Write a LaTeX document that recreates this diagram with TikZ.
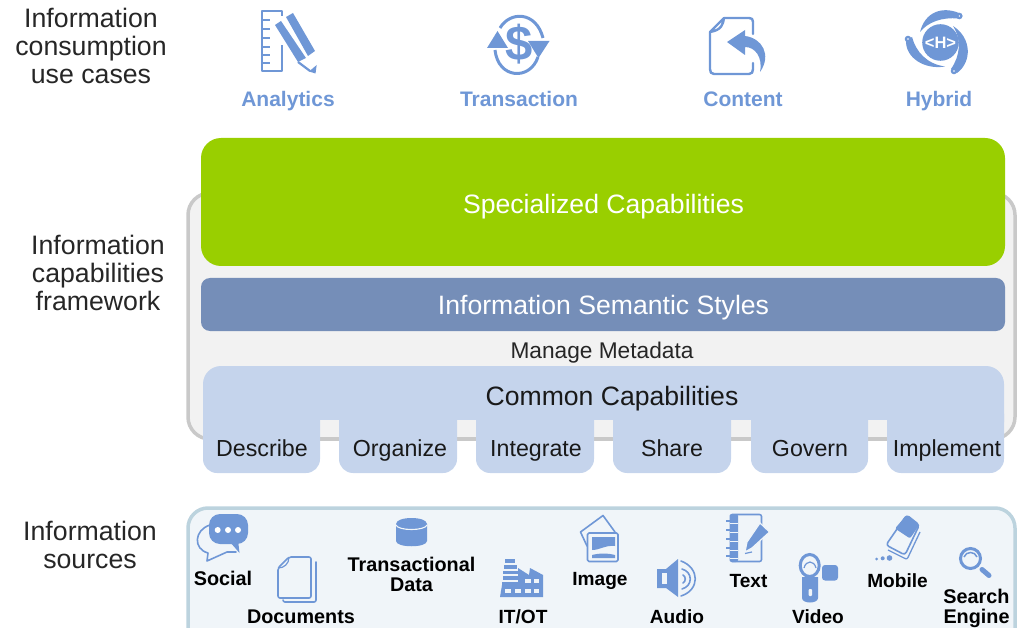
\documentclass[tikz,border=0pt]{standalone}
\usepackage{fontspec}
\setmainfont{Liberation Sans}
\definecolor{ic}{HTML}{6F97D6}
\definecolor{grn}{HTML}{99CF00}
\definecolor{sem}{HTML}{758EB8}
\definecolor{com}{HTML}{C5D4EC}
\definecolor{frm}{HTML}{C9C9C9}
\definecolor{frb}{HTML}{F2F2F2}
\definecolor{src}{HTML}{F0F5F9}
\definecolor{srb}{HTML}{BCD3DE}
\tikzset{
  x=1pt,y=-1pt,
  lab/.style={font=\fontsize{26.7}{28}\selectfont,align=center,text=black!85,inner sep=0},
  head/.style={font=\fontsize{21}{23}\bfseries\selectfont,text=ic,inner sep=0,anchor=base},
  tab/.style={font=\fontsize{23.2}{26}\selectfont,text=black!90,inner sep=0,anchor=base},
  big/.style={font=\fontsize{26.6}{28}\selectfont,inner sep=0,anchor=base},
  srcl/.style={font=\fontsize{19.8}{20}\bfseries\selectfont,align=center,text=black,inner sep=0},
  srcb/.style={srcl,anchor=base},
  srcs/.style={srcb,font=\fontsize{19.1}{20}\bfseries\selectfont},
  iconl/.style={draw=ic,line width=2.4pt,line join=round,line cap=round,fill=none},
  thin icon/.style={draw=ic,line width=1.6pt,line join=round,line cap=round},
}
\begin{document}
\begin{tikzpicture}
\useasboundingbox (0,0) rectangle (1017,628);
\clip (0,0) rectangle (1017,628);
% left labels
\node[lab] (l1) at (91,45.7) {Information\\consumption\\use cases};
\node[lab] (l2) at (98,273) {Information\\capabilities\\framework};
\node[lab] (l3) at (90,544.7) {Information\\sources};
% headings
\node[head] (h1) at (288,107) {Analytics};
\node[head] (h2) at (519,107) {Transaction};
\node[head] (h3) at (743,107) {Content};
\node[head] (h4) at (939,107) {Hybrid};
% frame
\draw[draw=frm,fill=frb,line width=3.5pt,rounded corners=22pt] (188,193) rectangle (1015,439);
% green
\fill[grn,rounded corners=20pt] (201,138) rectangle (1005,266);
\node[big,text=white] (spec) at (603.5,214) {Specialized Capabilities};
\fill[sem,rounded corners=9pt] (201,278) rectangle (1005,331);
\node[big,text=white] (sem) at (603.5,315) {Information Semantic Styles};
\node[font=\fontsize{22.7}{24}\selectfont,text=black!85,inner sep=0,anchor=base] (meta) at (602,358) {Manage Metadata};
% common
\fill[com,rounded corners=18pt] (203,366) rectangle (1004,440);
\fill[frb] (203,420) rectangle (1004,438);
\fill[frm] (203,437.2) rectangle (1004,440.8);
\foreach \a/\b in {203/320,339/457,476/594,613/731,751/868,887/1004}{
  \fill[com,rounded corners=14pt] (\a,400) rectangle (\b,473);
}
\node[big,text=black!90] (common) at (612,405) {Common Capabilities};
\node[tab] (t1) at (262,456) {Describe};
\node[tab] (t2) at (400,456) {Organize};
\node[tab] (t3) at (536,456) {Integrate};
\node[tab] (t4) at (672,456) {Share};
\node[tab] (t5) at (810,456) {Govern};
\node[tab] (t6) at (947,456) {Implement};
% sources
\draw[draw=srb,fill=src,line width=3.5pt,rounded corners=20pt] (188,508) rectangle (1015,660);
\node[srcb] (s1) at (223,585.5) {Social};
\node[srcb] (s2) at (301,623) {Documents};
\node[srcl] (s3) at (411.5,574.5) {Transactional\\Data};
\node[srcs] (s4) at (523,623) {IT/OT};
\node[srcs] (s5) at (600,585.5) {Image};
\node[srcs] (s6) at (677,623) {Audio};
\node[srcs] (s7) at (748.5,587) {Text};
\node[srcs] (s8) at (818,623) {Video};
\node[srcs] (s9) at (897.5,587) {Mobile};
\node[srcl] (s10) at (976.5,608) {Search\\Engine};
% Analytics icon
\draw[iconl,line cap=butt] (282,16) -- (282,11) -- (262,11) -- (262,71) -- (282,71) -- (282,45);
\foreach \y in {20,29,38,47,55,63}{\draw[ic,line width=2.4pt] (262,\y) -- (270,\y);}
\fill[ic] (275,25) -- (281,21) -- (306,58) -- (298,62) -- cycle;
\fill[ic] (286,17) -- (293,13) -- (315,51) -- (308,56) -- cycle;
\draw[ic,line width=2.2pt] (298,62) -- (310,71);
\fill[ic] (309,71.5) -- (316.7,65) -- (315.5,73.5) -- cycle;
% Transaction icon
\draw[ic,line width=3pt] (500,28) .. controls (510,11) and (536,11) .. (543,38);
\draw[ic,line width=3pt] (495,50) .. controls (498,79) and (530,81) .. (538,57);
\fill[ic] (487,48) -- (497.5,31) -- (508,48) -- cycle;
\fill[ic] (528,41) -- (549.5,41) -- (538.5,58) -- cycle;
\node[font=\fontsize{49}{49}\bfseries\selectfont,text=ic,inner sep=0] (dollar) at (519,44) {\$};
% Content icon
\draw[iconl] (724,18) -- (749,18) .. controls (752,18) and (753,19) .. (753,22) -- (753,34)
 (753,63) -- (753,69) .. controls (753,72) and (752,74) .. (749,74) -- (714,74) .. controls (711,74) and (710,72) .. (710,69) -- (710,32) -- (724,18) .. controls (723,24) and (722,30) .. (710,32);
\fill[ic] (727,42) -- (745,30) -- (745,36) .. controls (762,38) and (772,55) .. (760,72) .. controls (763,57) and (755,47) .. (745,47) -- (745,55) -- cycle;
% Hybrid icon
\fill[ic] (940.5,42.5) circle (18.3);
\node[font=\fontsize{16.5}{17}\bfseries\selectfont,text=white,inner sep=0] (hh) at (940.5,42.5) {<H>};
\fill[ic] (959,13) .. controls (942,6) and (925,12) .. (920,32) .. controls (928,22) and (942,17) .. (958,18.5) -- cycle;
\fill[ic] (906,40) .. controls (905,58) and (925,70) .. (945,66.5) .. controls (927,64) and (916,52) .. (912,37) -- cycle;
\fill[ic] (953,26) .. controls (972,38) and (972,62) .. (957,73) -- (951,69) .. controls (960,56) and (962,40) .. (953,26) -- cycle;
\fill[ic] (959.3,16) circle (3.3) (908,39) circle (3.3) (954,71) circle (3.3);
\fill[white] (959.3,16) circle (0.8) (908,39) circle (0.8) (954,71) circle (0.8);
% Social icon
\draw[thin icon,fill=src] (210,525) .. controls (194,530) and (193,549) .. (208,553) -- (207,561) -- (227,552) -- (236,552);
\fill[ic,rounded corners=11pt] (209,514) rectangle (248,544);
\fill[ic] (230,542) -- (239.5,553) -- (238,540) -- cycle;
\fill[white] (217.7,530) circle (3) (228,530) circle (3) (238,530) circle (3);
% Documents icon
\draw[thin icon,rounded corners=2pt] (283,600) -- (283,602) -- (316,602) -- (316,562);
\draw[thin icon,fill=src,rounded corners=2pt] (289,557) -- (311,557) -- (311,598) -- (278,598) -- (278,568) -- cycle;
\draw[draw=ic,line width=1.2pt] (278,568) .. controls (284,568) and (289,564) .. (289,557);
% Transactional data
\fill[ic] (396,524) -- (396,541) .. controls (396,548) and (427,548) .. (427,541) -- (427,524) .. controls (427,516) and (396,516) .. (396,524) -- cycle;
\draw[draw=src,line width=1.1pt] (396,525) .. controls (398,531) and (425,531) .. (427,525);
% IT/OT
\fill[ic] (505,559) rectangle (515,563);
\fill[ic] (503.5,565) rectangle (517,568.5);
\fill[ic] (503,570.5) rectangle (518,574);
\fill[ic] (502.5,576) rectangle (518,580);
\fill[ic] (502,582) rectangle (518,585);
\fill[ic] (500,597) -- (502,585) -- (518,585) -- (518,568) -- (529,575) -- (530,568) -- (543,575) -- (543,597) -- cycle;
\foreach \x in {525,533.5}{\fill[src] (\x,579) rectangle +(5.5,4);}
\foreach \x in {505,515,525,533.5}{\fill[src] (\x,588.5) rectangle +(5.5,4.5);}
% Image
\draw[thin icon] (587,546) -- (580.5,532) -- (603,515.5) -- (615,532);
\draw[thin icon,fill=src,rounded corners=1.5pt] (587.5,533) rectangle (618,561.5);
\fill[ic] (592,537) -- (615,537) -- (615,546) .. controls (605,545) and (600,550) .. (592,550) -- cycle;
\fill[ic] (592,555) .. controls (600,553) and (608,553) .. (615,555) -- (615,558) -- (592,558) -- cycle;
% Audio
\fill[ic] (657,569) -- (666,569) -- (678,559) -- (678,597) -- (666,588) -- (657,588) -- cycle;
\fill[src] (662,573) rectangle (667,584);
\draw[thin icon] (681,561) .. controls (700,568) and (700,590) .. (681,596);
\draw[thin icon] (682,569) .. controls (693,572) and (693,586) .. (682,589);
\draw[thin icon] (683,575) .. controls (686,577) and (686,581) .. (683,583);
% Text
\draw[thin icon,rounded corners=2pt] (732,514.5) -- (761.5,514.5) -- (761.5,561.5) -- (732,561.5);
\fill[ic,rounded corners=2pt] (729.5,514) rectangle (738,562);
\foreach \y in {521,530,539,548,556}{\draw[ic,line width=1.8pt] (726,\y) -- (734,\y);\draw[src,line width=.9pt] (730,\y+2) -- (738,\y+2);}
\fill[ic,draw=src,line width=1.2pt] (760,523) -- (769.5,532) -- (752,548) -- (745,552) -- (747,542) -- cycle;
\draw[ic,line width=1.2pt] (745,553.5) -- (752,552);
% Video
\draw[draw=ic,line width=3pt] (809.7,565.5) ellipse (9.5 and 11);
\fill[ic] (802,577) -- (818,577) -- (818,598) .. controls (818,604) and (802,604) .. (802,598) -- cycle;
\fill[src,rounded corners=1pt] (808.5,589) rectangle (812,596);
\fill[ic,rounded corners=3pt] (822,565) rectangle (838,580.5);
\draw[ic,line width=1.2pt] (804,568) .. controls (806,560) and (814,560) .. (816,568);
% Mobile
\fill[ic,rounded corners=2pt] (906.7,515) -- (919.3,525) -- (910,538.5) -- (895,528.5) -- cycle;
\draw[thin icon,rounded corners=3pt] (906.7,515) -- (919.3,525) -- (905,555) -- (886,545) -- cycle;
\draw[draw=ic,line width=1.3pt,rounded corners=2pt] (888,550) -- (907,559.5) -- (920,532);
\fill[ic] (876.7,559) circle (1.5) (882.7,558.3) circle (2) (889.5,558) circle (2.8);
% Search
\draw[draw=ic,line width=3pt] (970.5,558.5) circle (10);
\draw[ic,line width=1.5pt] (964,557) .. controls (966,551) and (975,551) .. (977,557);
\draw[ic,line width=5pt,line cap=round] (982,569.5) -- (989,575.5);
\end{tikzpicture}
\end{document}
